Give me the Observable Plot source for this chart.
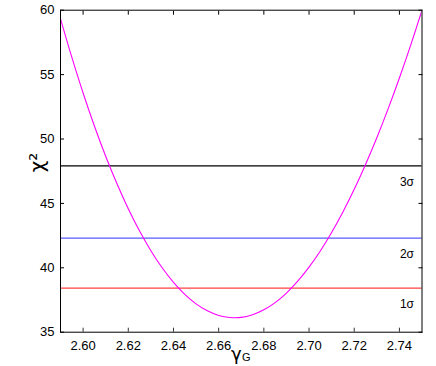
<!DOCTYPE html>
<html><head><meta charset="utf-8">
<script src="https://cdn.jsdelivr.net/npm/d3@7"></script>
<script src="https://cdn.jsdelivr.net/npm/@observablehq/plot@0.6"></script>
<style>body{margin:0;background:#fff;} svg{font-family:"Liberation Sans",Arial,sans-serif;}</style>
</head><body><div id="chart"></div>
<script>
const gammaG = [2.590, 2.595, 2.600, 2.605, 2.610, 2.615, 2.620, 2.625, 2.630, 2.635, 2.640, 2.645, 2.650, 2.655, 2.660, 2.665, 2.670, 2.675, 2.680, 2.685, 2.690, 2.695, 2.700, 2.705, 2.710, 2.715, 2.720, 2.725, 2.730, 2.735, 2.740, 2.745, 2.750];
const chi2   = [59.33, 56.35, 53.57, 51.01, 48.66, 46.52, 44.58, 42.85, 41.33, 40.00, 38.87, 37.94, 37.20, 36.66, 36.30, 36.14, 36.15, 36.36, 36.74, 37.30, 38.04, 38.96, 40.05, 41.31, 42.74, 44.33, 46.09, 48.02, 50.10, 52.34, 54.74, 57.29, 60.00];
const levelNames = ["1σ", "2σ", "3σ"];
const levelValues = [38.42, 42.30, 47.92];
const levelColors = ["#ff4040", "#5a5aff", "#000000"];
const xTicks = [2.60, 2.62, 2.64, 2.66, 2.68, 2.70, 2.72, 2.74];
const yTicks = [35, 40, 45, 50, 55, 60];

const curve = gammaG.map((g, i) => ({g, c: chi2[i]}));
const levels = levelNames.map((n, i) => ({name: n, v: levelValues[i], color: levelColors[i]}));

const plot = Plot.plot({
  width: 436, height: 366,
  marginLeft: 60, marginRight: 14.5, marginTop: 9.7, marginBottom: 34.3,
  style: {fontFamily: "Liberation Sans, Arial, sans-serif", fontSize: "13px", background: "white", color: "#000"},
  x: {domain: [2.59, 2.75]},
  y: {domain: [35, 60]},
  marks: [
    Plot.ruleY(levels, {y: "v", stroke: "color", strokeWidth: 1.3}),
    Plot.line(curve, {x: "g", y: "c", stroke: "#ff00ff", strokeWidth: 1.1, curve: "catmull-rom", clip: true}),
    Plot.text(levels, {y: "v", frameAnchor: "right", text: "name", textAnchor: "end", dx: -8, dy: 16, fontSize: 12}),
    Plot.axisX({ticks: xTicks, tickFormat: d3.format(".2f"), tickSize: -4, tickPadding: 13, label: null, stroke: "#333", fontSize: 13}),
    Plot.axisX({anchor: "top", ticks: xTicks, tickFormat: () => "", tickSize: -4, label: null}),
    Plot.axisY({ticks: yTicks, tickSize: -4, tickPadding: 10, label: null, fontSize: 13}),
    Plot.axisY({anchor: "right", ticks: yTicks, tickFormat: () => "", tickSize: -4, label: null}),
    Plot.frame({stroke: "#000", strokeWidth: 1}),
    Plot.text(["χ²"], {frameAnchor: "left", dx: -23, dy: 1, rotate: -90, fontSize: 20, fontFamily: "DejaVu Sans"}),
    Plot.text(["γ"], {frameAnchor: "bottom", dy: 15, dx: -5, fontSize: 18, lineAnchor: "top", fontFamily: "DejaVu Sans"}),
    Plot.text(["G"], {frameAnchor: "bottom", dy: 21, dx: 5, fontSize: 11, lineAnchor: "top"})
  ]
});
document.getElementById("chart").appendChild(plot);
</script></body></html>
